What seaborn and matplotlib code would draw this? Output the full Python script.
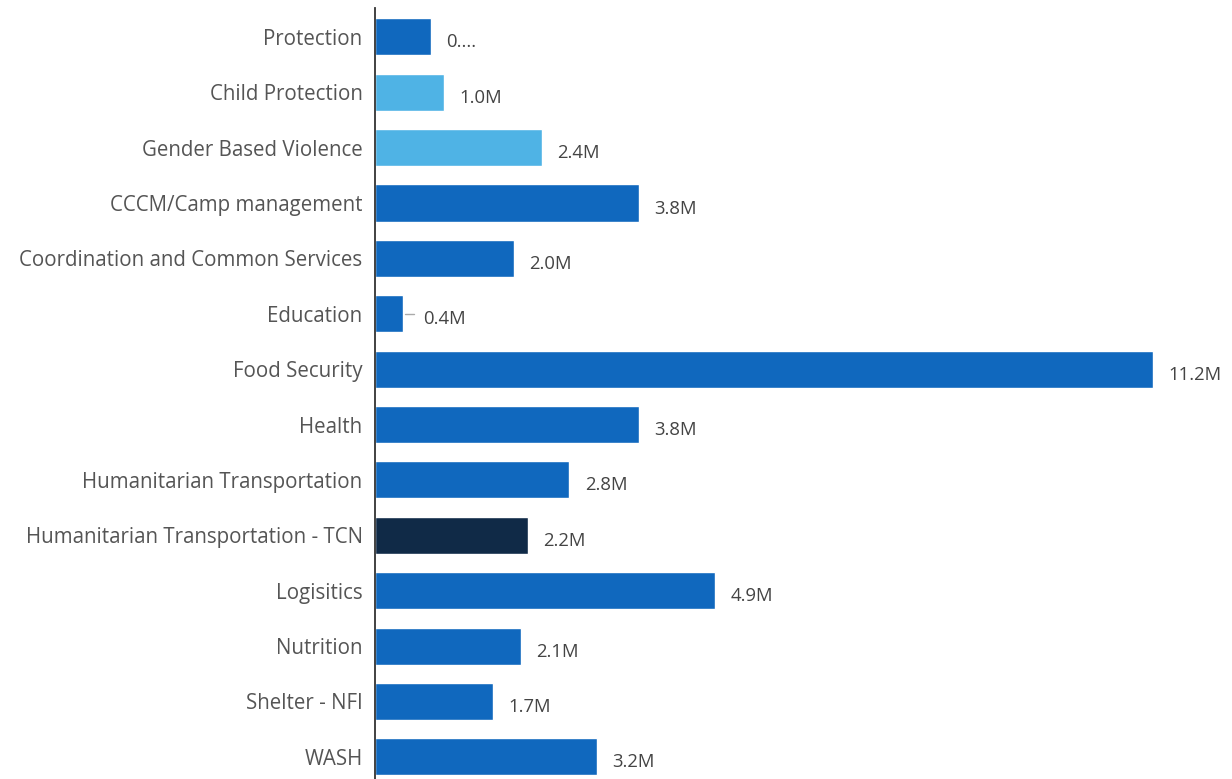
import matplotlib
matplotlib.use("Agg")
import matplotlib.pyplot as plt
import seaborn as sns
import pandas as pd

categories = [
    "Protection", "Child Protection", "Gender Based Violence", "CCCM/Camp management",
    "Coordination and Common Services", "Education", "Food Security", "Health",
    "Humanitarian Transportation", "Humanitarian Transportation - TCN", "Logisitics",
    "Nutrition", "Shelter - NFI", "WASH",
]
values = [0.8, 1.0, 2.4, 3.8, 2.0, 0.4, 11.2, 3.8, 2.8, 2.2, 4.9, 2.1, 1.7, 3.2]
value_labels = ["0....", "1.0M", "2.4M", "3.8M", "2.0M", "0.4M", "11.2M", "3.8M",
                "2.8M", "2.2M", "4.9M", "2.1M", "1.7M", "3.2M"]

BLUE = "#1068BE"
LIGHT = "#4FB3E5"
DARK = "#102A47"
colors = {c: BLUE for c in categories}
colors["Child Protection"] = LIGHT
colors["Gender Based Violence"] = LIGHT
colors["Humanitarian Transportation - TCN"] = DARK

df = pd.DataFrame({"category": categories, "value": values})

sns.set_style("white")
plt.rcParams["font.family"] = ["Open Sans", "DejaVu Sans"]

fig = plt.figure(figsize=(12.32, 7.79), dpi=100)
ax = fig.add_axes([375 / 1232, 0.0, 1 - 375 / 1232, 771 / 779])

sns.barplot(data=df, y="category", x="value", hue="category", palette=colors,
            order=categories, hue_order=categories, orient="h", width=0.67,
            legend=False, saturation=1, ax=ax)

ax.set_xlim(0, 12.34)
ax.set_ylim(13.4, -0.52)
ax.set_xlabel("")
ax.set_ylabel("")
ax.set_xticks([])
for s in ["top", "right", "bottom"]:
    ax.spines[s].set_visible(False)
ax.spines["left"].set_color("#333333")
ax.spines["left"].set_linewidth(1.3)
ax.tick_params(axis="y", length=0, pad=9, labelsize=14.8, labelcolor="#555555")

for i, (v, lab) in enumerate(zip(values, value_labels)):
    if v < 0.6:
        ax.plot([v + 0.03, v + 0.16], [i, i], color="#aaaaaa", lw=1)
        x = v + 0.3
    else:
        x = v + 0.22
    ax.text(x, i + 0.1, lab, va="center", ha="left", fontsize=13.3, color="#444444")

fig.savefig("out.png", dpi=100)
